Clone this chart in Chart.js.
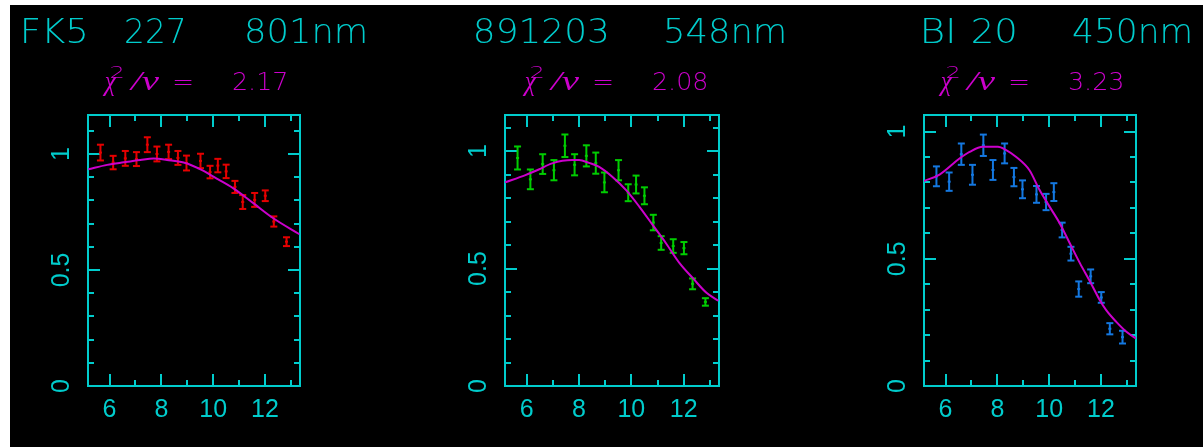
<!DOCTYPE html>
<html>
<head>
<meta charset="utf-8">
<script src="https://cdn.jsdelivr.net/npm/chart.js@4.4.1/dist/chart.umd.min.js"></script>
<style>
  html, body { margin: 0; padding: 0; background: #fff; }
  #plot { position: absolute; left: 10px; top: 5px; width: 1193px; height: 442px; background: #000; }
  canvas { position: absolute; top: 5px; }
</style>
</head>
<body>
<div id="plot"></div>
<canvas id="c1" width="416" height="442" style="left:24px"></canvas>
<canvas id="c2" width="416" height="442" style="left:441px"></canvas>
<canvas id="c3" width="343" height="442" style="left:860px"></canvas>
<script>
// spatial frequency of the measurements (same baselines in all three panels)
const freq = [5.65, 6.14, 6.61, 7.04, 7.46, 7.83, 8.28, 8.64, 8.97, 9.51,
              9.88, 10.18, 10.50, 10.84, 11.14, 11.60, 12.01, 12.34, 12.83];

// FK5 227, 801nm
const vis1 = [1.006, 0.963, 0.981, 0.978, 1.040, 1.000, 1.009, 0.983, 0.961, 0.970,
              0.922, 0.950, 0.925, 0.858, 0.793, 0.802, 0.820, 0.709, 0.622];
const err1 = [0.034, 0.029, 0.032, 0.030, 0.032, 0.032, 0.031, 0.030, 0.032, 0.031,
              0.027, 0.029, 0.029, 0.026, 0.030, 0.030, 0.023, 0.022, 0.019];
const modelX1 = [5.18, 5.91, 6.55, 7.19, 7.70, 8.22, 8.86, 9.63, 10.01, 10.78, 11.55, 12.32, 13.33];
const modelY1 = [0.934, 0.953, 0.964, 0.974, 0.980, 0.974, 0.963, 0.927, 0.902, 0.852, 0.788, 0.723, 0.654];

// 891203, 548nm
const vis2 = [0.971, 0.880, 0.945, 0.919, 1.023, 0.942, 0.980, 0.949, 0.867, 0.919,
              0.823, 0.858, 0.810, 0.696, 0.609, 0.596, 0.587, 0.435, 0.358];
const err2 = [0.049, 0.042, 0.042, 0.043, 0.048, 0.045, 0.045, 0.045, 0.042, 0.043,
              0.036, 0.038, 0.036, 0.033, 0.029, 0.029, 0.026, 0.023, 0.016];
const modelX2 = [5.17, 5.95, 6.46, 6.97, 7.74, 8.00, 8.38, 8.77, 9.28, 9.80, 10.31, 10.82, 11.33, 11.85, 12.36, 12.87, 13.33];
const modelY2 = [0.867, 0.898, 0.922, 0.948, 0.962, 0.962, 0.950, 0.933, 0.890, 0.834, 0.763, 0.685, 0.607, 0.522, 0.458, 0.397, 0.363];

// BI 20, 450nm
const vis3 = [0.824, 0.803, 0.911, 0.830, 0.946, 0.849, 0.914, 0.821, 0.773, 0.753,
              0.723, 0.762, 0.613, 0.520, 0.381, 0.431, 0.348, 0.225, 0.192];
const err3 = [0.039, 0.036, 0.042, 0.039, 0.042, 0.039, 0.039, 0.036, 0.035, 0.033,
              0.032, 0.035, 0.029, 0.027, 0.030, 0.027, 0.021, 0.022, 0.025];
const modelX3 = [5.16, 5.77, 6.54, 6.93, 7.44, 8.02, 8.34, 8.73, 9.24, 9.63, 10.02, 10.41, 10.80, 11.19, 11.58, 11.95, 12.20, 12.59, 12.98, 13.35];
const modelY3 = [0.805, 0.831, 0.894, 0.920, 0.940, 0.940, 0.927, 0.900, 0.848, 0.770, 0.704, 0.639, 0.560, 0.482, 0.410, 0.338, 0.298, 0.252, 0.213, 0.187];

// header words and reduced chi-square
const names1 = ['FK5', '227', '801nm'];
const names2 = ['891203', '548nm'];
const names3 = ['BI', '20', '450nm'];
const chi1 = '2.17';
const chi2 = '2.08';
const chi3 = '3.23';

// axis ranges and tick steps
const xMin = 5.17, xMax = 13.35;
const xMajor = 2, xMinor = 1;
const yMajor = 0.5, yMinor = 0.1;

// Colors
const cyan = 'rgb(0, 204, 204)';
const magenta = 'rgb(204, 0, 204)';

const panels = [
    { canvas: 'c1', left: 24, plotWidth: 212, yMax: 1.168, color: 'rgb(230, 0, 0)',
      vis: vis1, err: err1, mx: modelX1, my: modelY1, names: names1, chi: chi1,
      wordX: [[24, 85], [126, 183], [247, 365]], eqX: 174 },
    { canvas: 'c2', left: 441, plotWidth: 214, yMax: 1.154, color: 'rgb(0, 205, 0)',
      vis: vis2, err: err2, mx: modelX2, my: modelY2, names: names2, chi: chi2,
      wordX: [[476, 607], [666, 784]], eqX: 594 },
    { canvas: 'c3', left: 860, plotWidth: 212, yMax: 1.065, color: 'rgb(20, 120, 225)',
      vis: vis3, err: err3, mx: modelX3, my: modelY3, names: names3, chi: chi3,
      wordX: [[924, 952], [973, 1015], [1073, 1190]], eqX: 1010 },
]

// draw text so that its ink spans x0..x1 (the original font is a wide stroke font)
function fitText(ctx, text, x0, x1, baseline) {
    const m = ctx.measureText(text)
    const ink = m.actualBoundingBoxRight + m.actualBoundingBoxLeft
    const sx = (x1 - x0) / ink
    ctx.save()
    ctx.translate(x0 + m.actualBoundingBoxLeft * sx, baseline)
    ctx.scale(sx, 1)
    ctx.fillText(text, 0, 0)
    ctx.restore()
}

// headers: object name / wavelength, and chi^2/nu line
const headerPlugin = {
    id: 'header',
    afterDraw(chart, args, opts) {
        const ctx = chart.ctx
        const p = opts.panel
        ctx.save()
        ctx.textAlign = 'left'
        ctx.textBaseline = 'alphabetic'

        ctx.fillStyle = cyan
        ctx.font = '200 34px "DejaVu Sans", "Liberation Sans"'
        p.names.forEach((w, i) => fitText(ctx, w, p.wordX[i][0] - p.left, p.wordX[i][1] - p.left, 37.7))

        ctx.fillStyle = magenta
        const e = p.eqX - p.left
        ctx.font = 'italic 27px "Liberation Serif"'
        fitText(ctx, 'χ', e - 72, e - 57, 85)
        ctx.font = '200 16px "DejaVu Sans", "Liberation Sans"'
        fitText(ctx, '2', e - 63, e - 51, 73.3)
        ctx.font = 'italic 27px "Liberation Serif"'
        fitText(ctx, '/ν', e - 46, e - 15, 85)
        ctx.font = '200 25px "DejaVu Sans", "Liberation Sans"'
        fitText(ctx, '=', e, e + 18, 85)
        fitText(ctx, p.chi, e + 59, e + 112.5, 85)
        ctx.restore()
    }
}

// fixed axis thickness so the frames land where the original ones are
function fixSize(size) {
    return function (scale) {
        if (scale.isHorizontal()) scale.height = size
        else scale.width = size
        scale.paddingTop = scale.paddingBottom = scale.paddingLeft = scale.paddingRight = 0
    }
}

// drop ticks outside the axis range
function inRange(scale) {
    scale.ticks = scale.ticks.filter(t => t.value >= scale.min - 1e-9 && t.value <= scale.max + 1e-9)
}

const tickFont = { family: 'Liberation Sans', size: 25, lineHeight: 1.2 }
const border = { display: true, color: cyan, width: 2 }

// an unlabeled axis that only draws inward tick marks
function tickAxis(axis, position, min, max, step, len) {
    return {
        type: 'linear', axis: axis, position: position, weight: 0, min: min, max: max,
        ticks: { display: false, stepSize: step, includeBounds: false },
        grid: { drawOnChartArea: false, color: cyan, lineWidth: 2, tickLength: -len },
        border: border,
        afterFit: fixSize(0),
        afterBuildTicks: inRange,
    }
}

function makeChart(p) {
    // error bars as short vertical segments, broken by null points
    const bars = []
    freq.forEach((f, i) => {
        bars.push({ x: f, y: p.vis[i] - p.err[i] })
        bars.push({ x: f, y: p.vis[i] + p.err[i] })
        bars.push({ x: f, y: null })
    })
    const centers = freq.map((f, i) => ({ x: f, y: p.vis[i] }))
    const model = p.mx.map((x, i) => ({ x: x, y: p.my[i] }))

    const canvas = document.getElementById(p.canvas)
    const plotLeft = 64
    const plotTop = 110
    const plotBottom = 381

    return new Chart(canvas.getContext('2d'), {
        type: 'scatter',
        data: {
            datasets: [
                {
                    label: 'Model',
                    data: model,
                    showLine: true,
                    borderColor: magenta,
                    borderWidth: 2,
                    pointRadius: 0,
                    cubicInterpolationMode: 'monotone',
                },
                {
                    label: 'Error',
                    data: bars,
                    showLine: true,
                    spanGaps: false,
                    borderColor: p.color,
                    borderWidth: 2,
                    pointStyle: 'line',
                    pointRadius: 3.5,
                    pointBorderColor: p.color,
                    pointBorderWidth: 2,
                },
                {
                    label: 'Visibility',
                    data: centers,
                    pointStyle: 'line',
                    pointRadius: 1.5,
                    pointBorderColor: p.color,
                    pointBorderWidth: 2,
                },
            ]
        },
        options: {
            responsive: false,
            animation: false,
            events: [],
            layout: {
                padding: {
                    left: 0,
                    top: plotTop,
                    right: canvas.width - plotLeft - p.plotWidth,
                    bottom: 0,
                }
            },
            plugins: {
                legend: { display: false },
                tooltip: { enabled: false },
                header: { panel: p },
            },
            scales: {
                x: {
                    type: 'linear', position: 'bottom', weight: 1, min: xMin, max: xMax,
                    ticks: { stepSize: xMajor, includeBounds: false, color: cyan, font: tickFont, padding: 9 },
                    grid: { display: false, drawTicks: false },
                    border: border,
                    afterFit: fixSize(canvas.height - plotBottom),
                    afterBuildTicks: inRange,
                },
                xMaj: tickAxis('x', 'bottom', xMin, xMax, xMajor, 12),
                xMin: tickAxis('x', 'bottom', xMin, xMax, xMinor, 6),
                xTopMaj: tickAxis('x', 'top', xMin, xMax, xMajor, 12),
                xTopMin: tickAxis('x', 'top', xMin, xMax, xMinor, 6),
                y: {
                    type: 'linear', position: 'left', weight: 1, min: 0, max: p.yMax,
                    ticks: {
                        stepSize: yMajor, includeBounds: false, color: cyan, font: tickFont,
                        minRotation: 90, maxRotation: 90, crossAlign: 'center', padding: 9,
                        callback: (v) => String(+v.toFixed(2)),
                    },
                    grid: { display: false, drawTicks: false },
                    border: border,
                    afterFit: fixSize(plotLeft),
                    afterBuildTicks: inRange,
                },
                yMaj: tickAxis('y', 'left', 0, p.yMax, yMajor, 12),
                yMin: tickAxis('y', 'left', 0, p.yMax, yMinor, 6),
                yRMaj: tickAxis('y', 'right', 0, p.yMax, yMajor, 12),
                yRMin: tickAxis('y', 'right', 0, p.yMax, yMinor, 6),
            }
        },
        plugins: [headerPlugin],
    })
}

panels.forEach(makeChart)
</script>
</body>
</html>
